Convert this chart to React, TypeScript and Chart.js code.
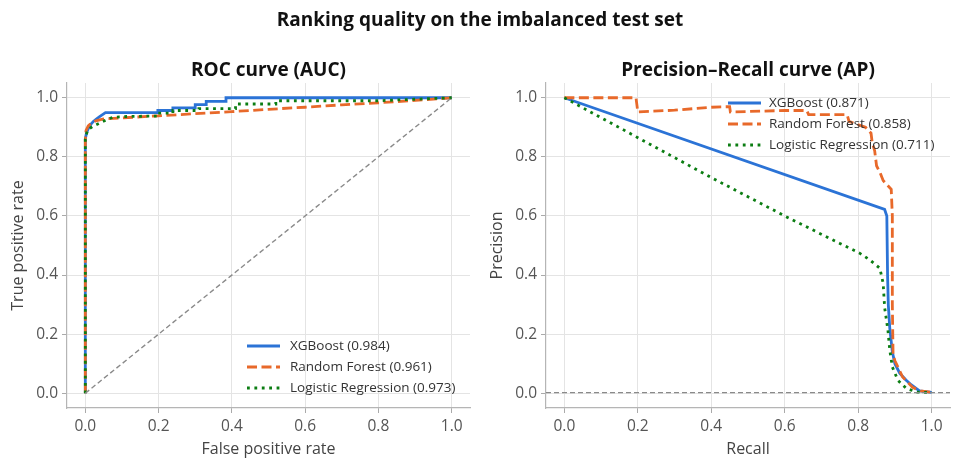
import React, { useEffect, useRef } from "react";
import { Chart, registerables } from "chart.js";

Chart.register(...registerables);

// ---------- data ----------
const modelNames = ["XGBoost", "Random Forest", "Logistic Regression"];
const rocAuc = [0.984, 0.961, 0.973];
const prAp = [0.871, 0.858, 0.711];

const rocXgbFpr = [0, 0, 0, 0.003, 0.008, 0.015, 0.022, 0.03, 0.04, 0.055, 0.198, 0.198, 0.239, 0.239, 0.3, 0.3, 0.33, 0.33, 0.384, 0.384, 1];
const rocXgbTpr = [0, 0.5, 0.86, 0.88, 0.895, 0.91, 0.92, 0.928, 0.937, 0.95, 0.95, 0.957, 0.957, 0.966, 0.966, 0.977, 0.977, 0.988, 0.988, 1, 1];

const rocRfFpr = [0, 0, 0.002, 0.008, 0.016, 0.029, 0.047, 0.1, 0.2, 0.3, 0.4, 0.5, 0.6, 0.7, 0.8, 0.9, 1];
const rocRfTpr = [0, 0.86, 0.89, 0.905, 0.914, 0.922, 0.928, 0.932, 0.939, 0.946, 0.953, 0.961, 0.968, 0.976, 0.983, 0.991, 1];

const rocLrFpr = [0, 0, 0.006, 0.02, 0.038, 0.057, 0.075, 0.12, 0.198, 0.198, 0.239, 0.239, 0.31, 0.31, 0.41, 0.41, 0.52, 0.52, 0.8, 0.9, 1];
const rocLrTpr = [0, 0.86, 0.891, 0.903, 0.914, 0.925, 0.934, 0.937, 0.938, 0.948, 0.948, 0.957, 0.957, 0.963, 0.963, 0.979, 0.979, 0.99, 0.99, 0.995, 1];

const chanceX = [0, 1];
const chanceY = [0, 1];

const prXgbRecall = [0, 0.872, 0.878, 0.88, 0.882, 0.886, 0.893, 0.9, 0.913, 0.93, 0.945, 0.967, 1];
const prXgbPrecision = [1, 0.622, 0.6, 0.4, 0.3, 0.22, 0.14, 0.1, 0.068, 0.045, 0.028, 0.008, 0.003];

const prRfRecall = [0, 0.195, 0.2, 0.3, 0.4, 0.45, 0.452, 0.6, 0.66, 0.665, 0.77, 0.775, 0.82, 0.835, 0.838, 0.845, 0.85, 0.86, 0.868, 0.875, 0.89, 0.893, 0.893, 0.895, 0.9, 0.921, 0.948, 0.97, 1];
const prRfPrecision = [1, 1, 0.952, 0.958, 0.968, 0.97, 0.952, 0.957, 0.957, 0.943, 0.943, 0.92, 0.9, 0.88, 0.85, 0.82, 0.77, 0.745, 0.72, 0.71, 0.69, 0.6, 0.3, 0.13, 0.11, 0.055, 0.02, 0.008, 0.003];

const prLrRecall = [0, 0.2, 0.4, 0.6, 0.75, 0.804, 0.832, 0.859, 0.868, 0.872, 0.881, 0.886, 0.893, 0.908, 0.931, 0.96, 1];
const prLrPrecision = [1, 0.865, 0.73, 0.6, 0.507, 0.474, 0.451, 0.423, 0.372, 0.29, 0.213, 0.146, 0.089, 0.044, 0.016, 0.004, 0.002];

const prevalence = 0.002;
const axisMin = -0.05;
const axisMax = 1.05;
const tickValues = [0, 0.2, 0.4, 0.6, 0.8, 1.0];

// ---------- styles ----------
const FONT = '"Open Sans", "Noto Sans", sans-serif';
const COLORS = ["#2b73d6", "#e8692a", "#0b7d12"];
const DASHES: number[][] = [[], [10, 4.5], [2.8, 4.6]];
const LINE_W = 2.8;

const pts = (xs: number[], ys: number[]) => xs.map((x, i) => ({ x, y: ys[i] }));

const insideLegend = {
  id: "insideLegend",
  afterDatasetsDraw(chart: any, _args: any, opts: any) {
    const { ctx, chartArea } = chart;
    const items = chart.data.datasets.filter((d: any) => d.inLegend);
    ctx.save();
    ctx.font = `${opts.fontSize}px ${FONT}`;
    const n = items.length;
    items.forEach((d: any, i: number) => {
      const y =
        opts.corner === "lower"
          ? chartArea.bottom - opts.offsetY - (n - 1 - i) * opts.spacing
          : chartArea.top + opts.offsetY + i * opts.spacing;
      const x0 = chartArea.right - opts.offsetX;
      ctx.strokeStyle = d.borderColor;
      ctx.lineWidth = d.borderWidth;
      ctx.lineCap = "butt";
      ctx.setLineDash(d.borderDash || []);
      ctx.beginPath();
      ctx.moveTo(x0, y);
      ctx.lineTo(x0 + opts.sampleLen, y);
      ctx.stroke();
      ctx.setLineDash([]);
      ctx.fillStyle = "#333";
      ctx.textBaseline = "middle";
      ctx.textAlign = "left";
      ctx.fillText(d.label, x0 + opts.sampleLen + opts.gap, y);
    });
    ctx.restore();
  },
};

function axisOptions(title: string, isY: boolean, size: number, titlePad: number) {
  return {
    type: "linear",
    min: axisMin,
    max: axisMax,
    afterBuildTicks(scale: any) {
      scale.ticks = tickValues.map((value) => ({ value }));
    },
    afterFit(scale: any) {
      if (isY) scale.width = size;
      else scale.height = size;
    },
    grid: {
      color: "#e4e4e4",
      lineWidth: 1,
      drawTicks: true,
      tickLength: 5,
      tickColor: "#aaaaaa",
    },
    border: { display: true, color: "#b5b5b5", width: 1.2 },
    ticks: {
      color: "#555",
      font: { family: FONT, size: 15.5 },
      padding: 4,
      maxRotation: 0,
      autoSkip: false,
      callback: (v: any) => Number(v).toFixed(1),
    },
    title: {
      display: true,
      text: title,
      color: "#444",
      font: { family: FONT, size: 16 },
      padding: isY ? { top: titlePad, bottom: 0 } : { top: 0, bottom: titlePad },
    },
  };
}

function curveDataset(i: number, data: any[], label: string) {
  return {
    label,
    data,
    borderColor: COLORS[i],
    backgroundColor: COLORS[i],
    borderWidth: LINE_W,
    borderDash: DASHES[i],
    borderCapStyle: "butt",
    pointRadius: 0,
    tension: 0,
    fill: false,
    inLegend: true,
    order: 10 - i,
  };
}

function refDataset(data: any[]) {
  return {
    label: "reference",
    data,
    borderColor: "#8a8a8a",
    borderWidth: 1.4,
    borderDash: [5, 3],
    pointRadius: 0,
    tension: 0,
    fill: false,
    inLegend: false,
    order: 0,
  };
}

function makeConfig(which: "roc" | "pr") {
  const isRoc = which === "roc";
  const datasets = isRoc
    ? [
        curveDataset(0, pts(rocXgbFpr, rocXgbTpr), `${modelNames[0]} (${rocAuc[0].toFixed(3)})`),
        curveDataset(1, pts(rocRfFpr, rocRfTpr), `${modelNames[1]} (${rocAuc[1].toFixed(3)})`),
        curveDataset(2, pts(rocLrFpr, rocLrTpr), `${modelNames[2]} (${rocAuc[2].toFixed(3)})`),
        refDataset(pts(chanceX, chanceY)),
      ]
    : [
        curveDataset(0, pts(prXgbRecall, prXgbPrecision), `${modelNames[0]} (${prAp[0].toFixed(3)})`),
        curveDataset(1, pts(prRfRecall, prRfPrecision), `${modelNames[1]} (${prAp[1].toFixed(3)})`),
        curveDataset(2, pts(prLrRecall, prLrPrecision), `${modelNames[2]} (${prAp[2].toFixed(3)})`),
        refDataset(pts([axisMin, axisMax], [prevalence, prevalence])),
      ];
  return {
    type: "line",
    data: { datasets },
    plugins: [insideLegend],
    options: {
      responsive: false,
      maintainAspectRatio: false,
      animation: false,
      events: [],
      layout: { padding: { top: 83, right: 10, left: 0, bottom: 0 } },
      scales: {
        x: axisOptions(isRoc ? "False positive rate" : "Recall", false, 62, 11.4),
        y: axisOptions(isRoc ? "True positive rate" : "Precision", true, isRoc ? 67 : 66, isRoc ? 8.4 : 7.4),
      },
      plugins: {
        legend: { display: false },
        tooltip: { enabled: false },
        title: { display: false },
        insideLegend: isRoc
          ? { corner: "lower", offsetX: 223, offsetY: 20, spacing: 21, sampleLen: 33, gap: 10, fontSize: 13.5 }
          : { corner: "upper", offsetX: 222, offsetY: 20, spacing: 21, sampleLen: 33, gap: 8, fontSize: 13.5 },
      },
    },
  };
}

function ChartCanvas({ which, left }: { which: "roc" | "pr"; left: number }) {
  const ref = useRef<HTMLCanvasElement | null>(null);
  useEffect(() => {
    if (!ref.current) return;
    const chart = new Chart(ref.current, makeConfig(which) as any);
    return () => chart.destroy();
  }, [which]);
  return (
    <canvas
      ref={ref}
      width={480}
      height={470}
      style={{ position: "absolute", left, top: 0, width: 480, height: 470 }}
    />
  );
}

const titleStyle = (left: number, width: number, top: number): React.CSSProperties => ({
  position: "absolute",
  left,
  width,
  top,
  textAlign: "center",
  fontFamily: FONT,
  fontWeight: 700,
  fontSize: 19,
  lineHeight: "26px",
  color: "#111",
  whiteSpace: "nowrap",
});

export default function App() {
  return (
    <div
      style={{
        position: "absolute",
        left: 0,
        top: 0,
        width: 960,
        height: 470,
        background: "#fff",
        overflow: "hidden",
      }}
    >
      <ChartCanvas which="roc" left={0} />
      <ChartCanvas which="pr" left={480} />
      <div style={titleStyle(0, 960, 6)}>Ranking quality on the imbalanced test set</div>
      <div style={titleStyle(67, 403, 55.5)}>ROC curve (AUC)</div>
      <div style={titleStyle(546, 404, 55.5)}>Precision–Recall curve (AP)</div>
    </div>
  );
}
